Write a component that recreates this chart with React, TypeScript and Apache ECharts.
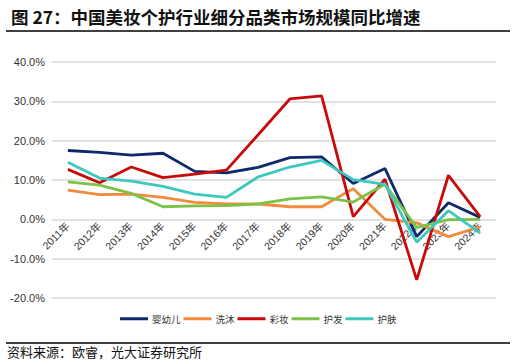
import React, { useEffect, useRef } from "react";
import * as echarts from "echarts";

const categories = ["2011年", "2012年", "2013年", "2014年", "2015年", "2016年", "2017年", "2018年", "2019年", "2020年", "2021年", "2022年", "2023年", "2024年"];
const infant = [17.5, 17.0, 16.3, 16.8, 12.2, 11.8, 13.2, 15.7, 15.9, 9.1, 12.9, -4.4, 4.2, 0.5];
const bath = [7.4, 6.3, 6.4, 5.6, 4.3, 3.9, 3.9, 3.2, 3.2, 7.8, 0.0, -0.9, -4.4, -1.9];
const makeup = [12.7, 9.3, 13.3, 10.6, 11.5, 12.5, 21.5, 30.6, 31.4, 0.7, 10.2, -15.4, 11.2, 0.7];
const hair = [9.5, 8.7, 6.6, 3.2, 3.4, 3.5, 3.9, 5.2, 5.7, 4.4, 8.9, -2.1, -0.1, 0.0];
const skin = [14.5, 10.5, 9.7, 8.4, 6.4, 5.6, 10.8, 13.3, 15.0, 10.1, 8.9, -5.8, 2.2, -3.5];
const seriesNames = ["婴幼儿", "洗沐", "彩妆", "护发", "护肤"];
const colors = ["#0E2A6C", "#F28B3C", "#C80A0A", "#7CC247", "#3EC8BE"];
const yTicks = { min: -20, max: 40, interval: 10 };

const numFont = "'Liberation Sans', Arial, 'Noto Sans CJK SC', sans-serif";

export default function App() {
  const ref = useRef<HTMLDivElement>(null);
  useEffect(() => {
    if (!ref.current) return;
    const chart = echarts.init(ref.current, undefined, { renderer: "svg" });
    const data = [infant, bath, makeup, hair, skin];
    const gridTop = 62;
    const gridBottom = 66;
    const plotH = 364 - gridTop - gridBottom;
    const zeroY = gridTop + (plotH * yTicks.max) / (yTicks.max - yTicks.min);
    const xOffset = -(364 - gridBottom - zeroY);
    chart.setOption({
      animation: false,
      textStyle: { fontFamily: "'Noto Sans CJK SC', 'Noto Sans', sans-serif" },
      title: {
        text: "图 27：中国美妆个护行业细分品类市场规模同比增速",
        left: 6,
        top: 3,
        textStyle: { fontSize: 17.5, fontWeight: "bold", color: "#111", fontFamily: "'Noto Sans CJK SC', sans-serif" },
      },
      graphic: [
        { type: "line", shape: { x1: 6, y1: 31, x2: 510, y2: 31 }, style: { stroke: "#000", lineWidth: 1.3 } },
        { type: "line", shape: { x1: 6, y1: 343, x2: 510, y2: 343 }, style: { stroke: "#000", lineWidth: 1.3 } },
        {
          type: "text",
          left: 7,
          top: 345,
          style: { text: "资料来源：欧睿，光大证券研究所", fontSize: 13, fill: "#111", fontFamily: "'Noto Sans CJK SC', sans-serif" },
        },
      ],
      legend: {
        left: 120,
        top: 314,
        padding: 0,
        icon: "rect",
        itemWidth: 28,
        itemHeight: 3,
        itemGap: 3,
        textStyle: { fontSize: 9.5, color: "#333", padding: [0, 0, 0, -1] },
        data: seriesNames,
      },
      grid: { left: 52, right: 20, top: gridTop, bottom: gridBottom, containLabel: false },
      xAxis: {
        type: "category",
        data: categories,
        boundaryGap: true,
        offset: xOffset,
        axisLine: { show: false, onZero: false },
        axisTick: { show: false },
        axisLabel: { rotate: 45, fontSize: 10.5, color: "#333", margin: 5, interval: 0, fontFamily: numFont },
      },
      yAxis: {
        type: "value",
        min: yTicks.min,
        max: yTicks.max,
        interval: yTicks.interval,
        axisLine: { show: false },
        axisTick: { show: false },
        axisLabel: { fontSize: 11, color: "#333", margin: 7, fontFamily: numFont, formatter: (v: number) => v.toFixed(1) + "%" },
        splitLine: { lineStyle: { color: "#D9D9D9", width: 1.5 } },
      },
      series: seriesNames.map((name, i) => ({
        name,
        type: "line",
        data: data[i],
        symbol: "none",
        lineStyle: { color: colors[i], width: 2.8 },
        itemStyle: { color: colors[i] },
      })),
    });
    return () => chart.dispose();
  }, []);
  return <div ref={ref} style={{ width: 516, height: 364, position: "absolute", left: 0, top: 0 }} />;
}
